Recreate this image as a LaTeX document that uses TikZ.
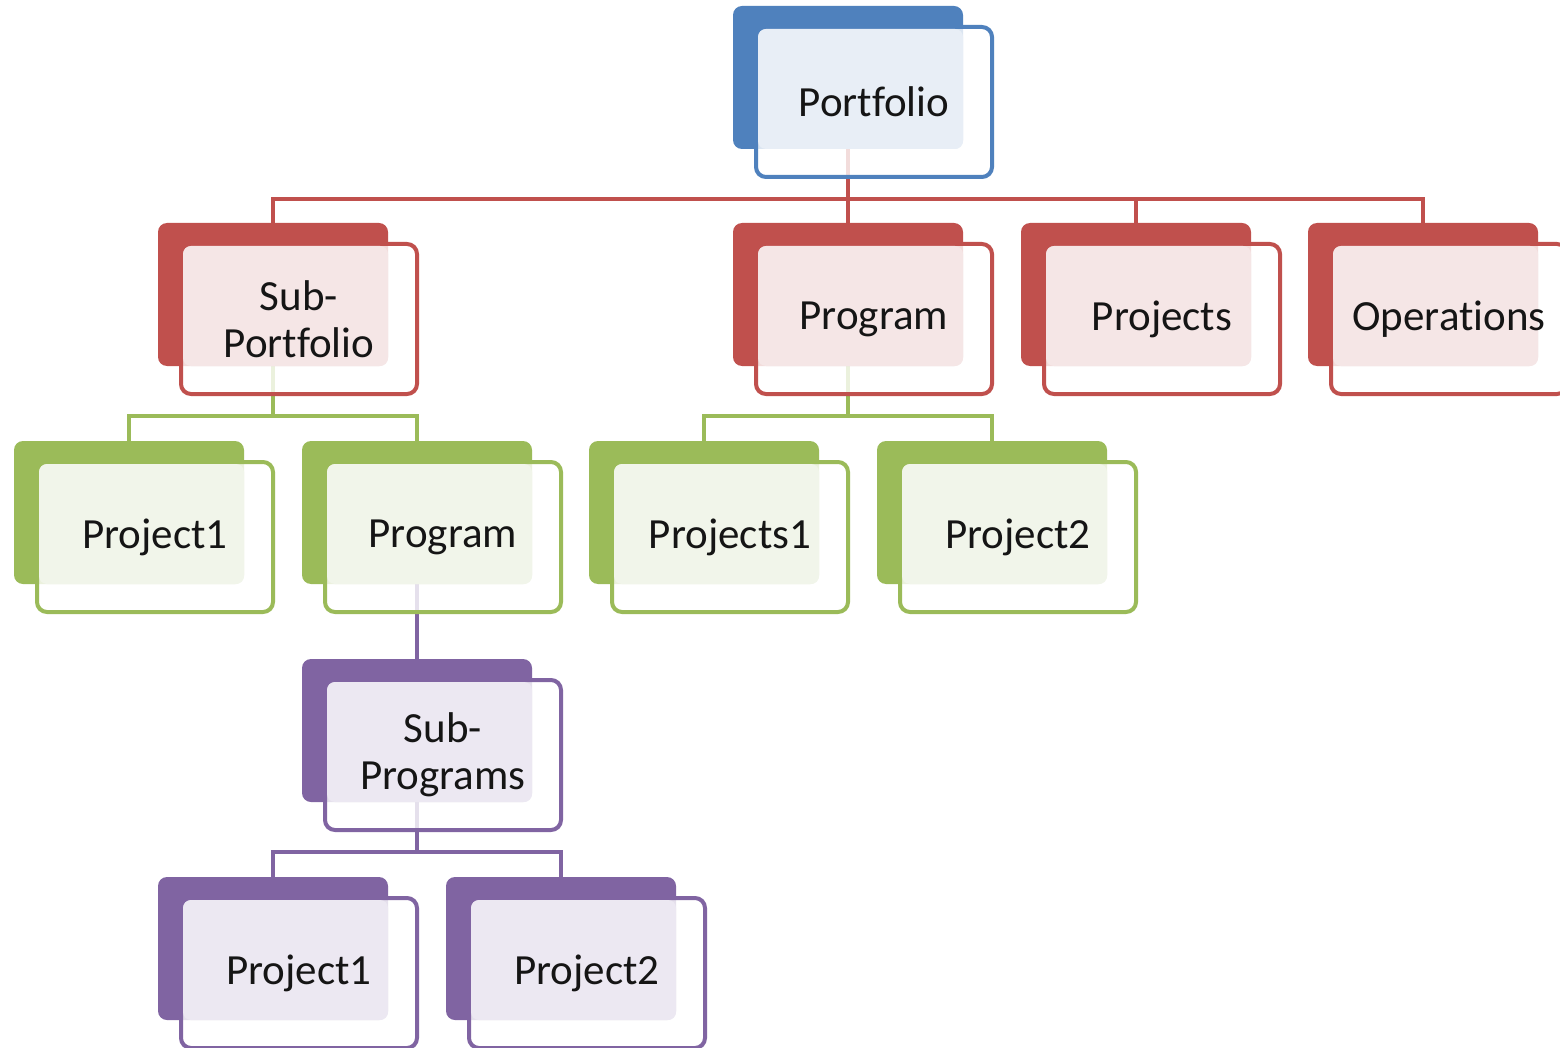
\documentclass[tikz,border=0pt]{standalone}
\usepackage{fontspec}
\setmainfont{Carlito}[Ligatures=NoCommon]
\usetikzlibrary{calc}

\definecolor{cblue}{HTML}{4F81BD}
\definecolor{tblue}{HTML}{E8EEF6}
\definecolor{cred}{HTML}{C0504D}
\definecolor{tred}{HTML}{F5E6E6}
\definecolor{cgreen}{HTML}{9BBB59}
\definecolor{tgreen}{HTML}{F1F5EA}
\definecolor{cpurple}{HTML}{8064A2}
\definecolor{tpurple}{HTML}{ECE8F2}
\definecolor{txt}{HTML}{151515}

\tikzset{
  boxtext/.style={text=txt, align=center, inner sep=0pt,
    font=\fontsize{43}{47}\selectfont},
  link/.style={line width=4pt}
}

% anchor points of a box whose back plate has its top-left corner at (x,y)
\newcommand\orgpos[3]{%
  \coordinate (#1-in) at (#2+115,#3);
  \coordinate (#1-out) at (#2+115,#3+143);
  \coordinate (#1-bus) at (#2+115,#3+193);
}
% name, x, y, main colour, tint, label
\newcommand\orgbox[6]{%
  \fill[#4, rounded corners=9pt] (#2,#3) rectangle ++(230,143);
  \draw[#4, line width=4pt, fill=white, fill opacity=.8, rounded corners=10pt]
    (#2+23,#3+21) rectangle ++(236,150);
  \fill[#5, rounded corners=8pt] (#2+25,#3+23) rectangle (#2+230,#3+143);
  \node[boxtext] (#1) at (#2+141,#3+96) {#6};
}

\begin{document}
\begin{tikzpicture}[x=1pt,y=-1pt]
\useasboundingbox (0,0) rectangle (1560,1048);
\fill[white] (0,0) rectangle (1560,1048);

% positions
\orgpos{port}{733}{6}
\orgpos{subp}{158}{223}
\orgpos{prog}{733}{223}
\orgpos{projs}{1021}{223}
\orgpos{ops}{1308}{223}
\orgpos{pa}{14}{441}
\orgpos{prgb}{302}{441}
\orgpos{psa}{589}{441}
\orgpos{pb}{877}{441}
\orgpos{subprg}{302}{659}
\orgpos{spa}{158}{877}
\orgpos{spb}{446}{877}

% connectors
\draw[link, cred] (port-out) -- (port-bus) -| (subp-in);
\draw[link, cred] (port-bus) -| (prog-in);
\draw[link, cred] (port-bus) -| (projs-in);
\draw[link, cred] (port-bus) -| (ops-in);

\draw[link, cgreen] (subp-out) -- (subp-bus) -| (pa-in);
\draw[link, cgreen] (subp-bus) -| (prgb-in);
\draw[link, cgreen] (prog-out) -- (prog-bus) -| (psa-in);
\draw[link, cgreen] (prog-bus) -| (pb-in);

\draw[link, cpurple] (prgb-out) -- (prgb-bus) -- (subprg-in);
\draw[link, cpurple] (subprg-out) -- (subprg-bus) -| (spa-in);
\draw[link, cpurple] (subprg-bus) -| (spb-in);

% boxes
\orgbox{port}{733}{6}{cblue}{tblue}{Portfolio}
\orgbox{subp}{158}{223}{cred}{tred}{Sub-\\Portfolio}
\orgbox{prog}{733}{223}{cred}{tred}{Program}
\orgbox{projs}{1021}{223}{cred}{tred}{Projects}
\orgbox{ops}{1308}{223}{cred}{tred}{Operations}
\orgbox{pa}{14}{441}{cgreen}{tgreen}{Project1}
\orgbox{prgb}{302}{441}{cgreen}{tgreen}{Program}
\orgbox{psa}{589}{441}{cgreen}{tgreen}{Projects1}
\orgbox{pb}{877}{441}{cgreen}{tgreen}{Project2}
\orgbox{subprg}{302}{659}{cpurple}{tpurple}{Sub-\\Programs}
\orgbox{spa}{158}{877}{cpurple}{tpurple}{Project1}
\orgbox{spb}{446}{877}{cpurple}{tpurple}{Project2}
\end{tikzpicture}
\end{document}
